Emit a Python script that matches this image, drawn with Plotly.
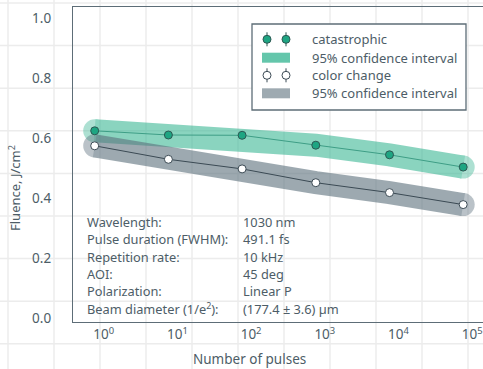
import numpy as np
import plotly.graph_objects as go

# ---------------- data ----------------
pulses = [1, 10, 100, 1000, 10000, 100000]
catastrophic = [0.625, 0.611, 0.610, 0.577, 0.545, 0.504]
color_change = [0.575, 0.530, 0.498, 0.452, 0.419, 0.379]

x_tickvals = [1, 10, 100, 1000, 10000, 100000]
x_ticktext = ["10<sup>0</sup>", "10<sup>1</sup>", "10<sup>2</sup>",
              "10<sup>3</sup>", "10<sup>4</sup>", "10<sup>5</sup>"]
y_tickvals = [0.0, 0.2, 0.4, 0.6, 0.8, 1.0]

legend_labels = ["catastrophic", "95% confidence interval",
                 "color change", "95% confidence interval"]

info_labels = ["Wavelength:", "Pulse duration (FWHM):", "Repetition rate:",
               "AOI:", "Polarization:", "Beam diameter (1/e<sup>2</sup>):"]
info_values = ["1030 nm", "491.1 fs", "10 kHz", "45 deg", "Linear P",
               "(177.4 ± 3.6) µm"]

# ---------------- style ----------------
W, H = 483, 369
ML, MT, MR, MB = 73, 7, 0, 47
PW, PH = W - ML - MR, H - MT - MB
TEXT = "#4d5d67"
FRAME = "#5d6d77"
FONT = "Noto Sans"
TEAL_BAND = "rgb(61,184,150)"
GRAY_BAND = "rgb(93,113,125)"
TEAL_MARK = "#1ea582"
TEAL_EDGE = "#2d5853"
DARK = "#3b4a54"
BAND_W = 23


def px2paper_x(px):
    return (px - ML) / PW


def px2paper_y(py):
    return (H - MB - py) / PH


# round caps only at the band ends
cap_sizes = [BAND_W if i in (0, len(pulses) - 1) else 0 for i in range(len(pulses))]

fig = go.Figure()

# confidence bands (thick rounded strokes)
fig.add_trace(go.Scatter(
    x=pulses, y=catastrophic, mode="lines+markers", name="95% confidence interval",
    line=dict(color=TEAL_BAND, width=BAND_W),
    marker=dict(color=TEAL_BAND, size=cap_sizes, line=dict(width=0)),
    opacity=0.6, showlegend=False, hoverinfo="skip"))
fig.add_trace(go.Scatter(
    x=pulses, y=color_change, mode="lines+markers", name="95% confidence interval",
    line=dict(color=GRAY_BAND, width=BAND_W),
    marker=dict(color=GRAY_BAND, size=cap_sizes, line=dict(width=0)),
    opacity=0.6, showlegend=False, hoverinfo="skip"))

# connecting lines + markers
fig.add_trace(go.Scatter(
    x=pulses, y=catastrophic, mode="lines+markers", name="catastrophic",
    line=dict(color="#3e9e86", width=1),
    marker=dict(color=TEAL_MARK, size=8, line=dict(color=TEAL_EDGE, width=1)),
    showlegend=False))
fig.add_trace(go.Scatter(
    x=pulses, y=color_change, mode="lines+markers", name="color change",
    line=dict(color=DARK, width=1),
    marker=dict(color="white", size=8, line=dict(color=DARK, width=1)),
    showlegend=False))

# page-wide graph-paper grid
shapes = []
for k in range(11):
    xp = px2paper_x(8 + 46 * k)
    shapes.append(dict(type="line", xref="paper", yref="paper", layer="below",
                       x0=xp, x1=xp, y0=px2paper_y(H), y1=px2paper_y(0),
                       line=dict(color="#ececec", width=1.5)))
for k in range(9):
    yp = px2paper_y(3 + 42.6 * k)
    shapes.append(dict(type="line", xref="paper", yref="paper", layer="below",
                       x0=px2paper_x(0), x1=px2paper_x(W), y0=yp, y1=yp,
                       line=dict(color="#ececec", width=1.5)))

annotations = []

# ---------------- legend (drawn in pixel layout space) ----------------
LX0, LY0, LX1, LY1 = 252, 24, 466, 110
shapes.append(dict(type="rect", xref="paper", yref="paper", layer="above",
                   x0=px2paper_x(LX0), x1=px2paper_x(LX1),
                   y0=px2paper_y(LY1), y1=px2paper_y(LY0),
                   fillcolor="white", line=dict(color=FRAME, width=1.3)))
row_y = [39.3, 57.7, 75.3, 93.3]
marker_styles = {0: (TEAL_MARK, TEAL_EDGE), 2: ("white", DARK)}
swatch_styles = {1: "rgba(61,184,150,0.8)", 3: "rgba(93,113,125,0.6)"}
for i, lab in enumerate(legend_labels):
    cy = row_y[i]
    if i in marker_styles:
        fillc, edgec = marker_styles[i]
        for cx in (267, 286):
            shapes.append(dict(type="line", xref="paper", yref="paper", layer="above",
                               x0=px2paper_x(cx), x1=px2paper_x(cx),
                               y0=px2paper_y(cy - 7), y1=px2paper_y(cy + 7),
                               line=dict(color=edgec, width=1)))
            shapes.append(dict(type="circle", xref="paper", yref="paper", layer="above",
                               x0=px2paper_x(cx - 4), x1=px2paper_x(cx + 4),
                               y0=px2paper_y(cy + 4), y1=px2paper_y(cy - 4),
                               fillcolor=fillc, line=dict(color=edgec, width=1)))
    else:
        shapes.append(dict(type="rect", xref="paper", yref="paper", layer="above",
                           x0=px2paper_x(262), x1=px2paper_x(290),
                           y0=px2paper_y(cy + 5), y1=px2paper_y(cy - 5),
                           fillcolor=swatch_styles[i], line=dict(width=0)))
    annotations.append(dict(xref="paper", yref="paper", x=px2paper_x(310), y=px2paper_y(cy),
                            xanchor="left", yanchor="middle", text=lab, showarrow=False,
                            font=dict(family=FONT, size=13, color=TEXT)))

# ---------------- info text ----------------
for i, (lab, val) in enumerate(zip(info_labels, info_values)):
    yp = px2paper_y(221.7 + 17.4 * i)
    annotations.append(dict(xref="paper", yref="paper", x=px2paper_x(85), y=yp,
                            xanchor="left", yanchor="middle", text=lab, showarrow=False,
                            font=dict(family=FONT, size=12.8, color=TEXT)))
    annotations.append(dict(xref="paper", yref="paper", x=px2paper_x(241), y=yp,
                            xanchor="left", yanchor="middle", text=val, showarrow=False,
                            font=dict(family=FONT, size=12.8, color=TEXT)))

annotations.append(dict(xref="paper", yref="paper", x=px2paper_x(249), y=px2paper_y(359),
                        xanchor="center", yanchor="middle", text="Number of pulses",
                        showarrow=False, font=dict(family=FONT, size=13.5, color=TEXT)))
annotations.append(dict(xref="paper", yref="paper", x=px2paper_x(14), y=px2paper_y(188),
                        xanchor="center", yanchor="middle", text="Fluence, J/cm<sup>2</sup>",
                        textangle=-90, showarrow=False,
                        font=dict(family=FONT, size=13, color=TEXT)))

x_left_log = (ML - 94.7) / 73.7
x_right_log = (W - 94.7) / 73.7
y_min = -(322 - 318.3) / 300
y_max = (318.3 - 7) / 300

fig.update_layout(
    width=W, height=H,
    margin=dict(l=ML, r=MR, t=MT, b=MB, pad=0),
    paper_bgcolor="white", plot_bgcolor="rgba(0,0,0,0)",
    font=dict(family=FONT, color=TEXT),
    shapes=shapes, annotations=annotations,
    showlegend=False,
    xaxis=dict(type="log", range=[x_left_log, x_right_log],
               tickvals=x_tickvals, ticktext=x_ticktext, ticklabelshift=9,
               showgrid=False, zeroline=False, ticks="",
               showline=True, mirror=True, linecolor=FRAME, linewidth=1.3,
               tickfont=dict(family=FONT, size=13.5, color=TEXT)),
    yaxis=dict(range=[y_min, y_max], tickvals=y_tickvals, tickformat=".1f",
               showgrid=False, zeroline=False, ticks="", ticklabelstandoff=18,
               showline=True, mirror=False, linecolor=FRAME, linewidth=1.3,
               tickfont=dict(family=FONT, size=13.5, color=TEXT)),
)

fig.write_html("out.html")
